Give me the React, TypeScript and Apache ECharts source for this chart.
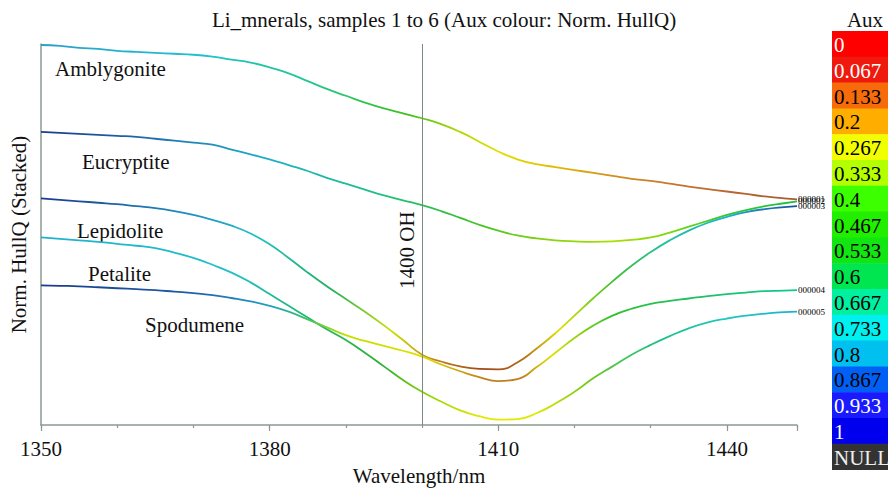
import React, { useEffect, useRef } from "react";
import * as echarts from "echarts";

// ---------- data ----------
const wavelengths = [
  1350, 1352.5, 1355, 1357.5, 1360, 1362.5, 1365, 1367.5, 1370, 1372.5, 1375, 1377.5, 1380,
  1382.5, 1385, 1387.5, 1390, 1392.5, 1395, 1397.5, 1400, 1402.5, 1405, 1407.5, 1410, 1412.5,
  1415, 1417.5, 1420, 1422.5, 1425, 1427.5, 1430, 1432.5, 1435,
  1437.5, 1440, 1442.5, 1445, 1447.5, 1449.2,
];

const amblygonite = [
  3.89, 3.88, 3.86, 3.85, 3.83, 3.82, 3.81, 3.8, 3.79, 3.77, 3.74, 3.71, 3.66,
  3.6, 3.52, 3.44, 3.37, 3.3, 3.24, 3.19, 3.14, 3.08, 3.0, 2.9, 2.8, 2.72,
  2.67, 2.64, 2.61, 2.58, 2.55, 2.52, 2.5, 2.47, 2.44,
  2.415, 2.39, 2.365, 2.34, 2.32, 2.31,
];
const eucryptite = [
  3.0, 2.99, 2.98, 2.97, 2.96, 2.95, 2.93, 2.91, 2.89, 2.87, 2.82, 2.77, 2.72,
  2.66, 2.6, 2.53, 2.47, 2.41, 2.35, 2.3, 2.25, 2.19, 2.12, 2.05, 1.99, 1.94,
  1.91, 1.89, 1.88, 1.875, 1.88, 1.895, 1.92, 1.97, 2.03,
  2.09, 2.15, 2.2, 2.24, 2.27, 2.29,
];
const lepidolite = [
  2.32, 2.305, 2.29, 2.275, 2.26, 2.24, 2.22, 2.19, 2.15, 2.1, 2.04, 1.96, 1.85,
  1.71, 1.56, 1.42, 1.29, 1.16, 1.02, 0.87, 0.72, 0.65, 0.6, 0.575, 0.57, 0.64,
  0.78, 0.94, 1.12, 1.3, 1.47, 1.63, 1.77, 1.89, 1.99,
  2.07, 2.13, 2.18, 2.21, 2.23, 2.24,
];
const petalite = [
  1.92, 1.905, 1.89, 1.875, 1.855, 1.835, 1.81, 1.765, 1.71, 1.64, 1.56, 1.46, 1.34,
  1.22, 1.1, 0.98, 0.87, 0.74, 0.6, 0.46, 0.34, 0.24, 0.15, 0.09, 0.055, 0.06,
  0.12, 0.22, 0.34, 0.48, 0.6, 0.72, 0.82, 0.91, 0.99,
  1.05, 1.09, 1.12, 1.14, 1.155, 1.16,
];
const spodumene = [
  1.43, 1.425, 1.42, 1.41, 1.4, 1.39, 1.38, 1.365, 1.35, 1.33, 1.3, 1.265, 1.22,
  1.16, 1.08, 1.0, 0.92, 0.86, 0.81, 0.76, 0.7, 0.62, 0.55, 0.49, 0.45, 0.47,
  0.59, 0.74, 0.89, 1.02, 1.12, 1.19, 1.24, 1.27, 1.295,
  1.32, 1.34, 1.355, 1.37, 1.375, 1.38,
];

const mineralNames = ["Amblygonite", "Eucryptite", "Lepidolite", "Petalite", "Spodumene"];
const sampleIds = ["000001", "000002", "000003", "000005", "000004"];
const seriesValues = [amblygonite, eucryptite, lepidolite, petalite, spodumene];

const xTickLabels = [1350, 1380, 1410, 1440];
const markerWavelength = 1400;
const markerText = "1400 OH";
const auxLabels = ["0", "0.067", "0.133", "0.2", "0.267", "0.333", "0.4", "0.467", "0.533", "0.6", "0.667", "0.733", "0.8", "0.867", "0.933", "1", "NULL"];

// ---------- styles ----------
const auxColors = ["#ff0000", "#ef1a0d", "#f76b0a", "#ffae00", "#f2ff00", "#b4ff00", "#3cff00", "#22ee00", "#12e612", "#00e650", "#00f0a0", "#00f0f0", "#00c0f0", "#0060f5", "#1a1aff", "#0000ee", "#333333"];
const auxTextColors = ["#fff", "#fff", "#000", "#000", "#000", "#000", "#000", "#000", "#000", "#000", "#000", "#000", "#000", "#000", "#fff", "#fff", "#eee"];

// colour stops per series: [wavelength, colour]
const colourStops: [number, string][][] = [
  [[1350, "#2a9fc8"], [1370, "#20c0d0"], [1385, "#20c890"], [1398, "#40c020"], [1405, "#b0d800"], [1410, "#e0e000"], [1418, "#e0b800"], [1425, "#d09020"], [1435, "#c07030"], [1449.2, "#a85a30"]],
  [[1350, "#1a3a8c"], [1365, "#2070b0"], [1380, "#20b0c8"], [1395, "#20c080"], [1405, "#30c030"], [1415, "#80d010"], [1425, "#a8e000"], [1432, "#80d810"], [1440, "#30c830"], [1449.2, "#22c040"]],
  [[1350, "#1a3a8c"], [1370, "#2090c0"], [1378, "#20c0c8"], [1388, "#20b060"], [1396, "#c8e000"], [1402, "#c08020"], [1408, "#a04818"], [1413, "#b06818"], [1418, "#e0e000"], [1425, "#40c030"], [1432, "#20c0a0"], [1440, "#20b0d0"], [1449.2, "#1a4a9c"]],
  [[1350, "#20b0d0"], [1375, "#20c0c8"], [1385, "#20b870"], [1395, "#30b030"], [1402, "#a0d800"], [1408, "#e8e800"], [1415, "#e0e800"], [1422, "#70c820"], [1430, "#20c080"], [1440, "#20c8c0"], [1449.2, "#20b0d0"]],
  [[1350, "#1a3a8c"], [1370, "#2060a8"], [1380, "#20a0c8"], [1385, "#40c060"], [1390, "#c0e000"], [1400, "#e0e000"], [1408, "#c08020"], [1413, "#c08020"], [1417, "#e0e000"], [1425, "#30c030"], [1435, "#20c060"], [1449.2, "#10c890"]],
];

// label positions [left, centerY]
const nameLabelPos: [number, number][] = [[55, 69], [82, 162], [77, 231], [88, 274], [145, 325]];

const FONT = "Liberation Serif, Times New Roman, serif";
const AXIS_COLOR = "#8a9a90";
const X_MIN = 1350;
const X_MAX = 1449.2;

export default function App() {
  const ref = useRef<HTMLDivElement>(null);

  useEffect(() => {
    if (!ref.current) return;
    const chart = echarts.init(ref.current, undefined, { renderer: "svg" });

    const series: any[] = seriesValues.map((vals, i) => ({
      type: "line",
      name: mineralNames[i],
      data: wavelengths.map((w, j) => [w, vals[j]]),
      smooth: 0.5,
      symbol: "none",
      lineStyle: {
        width: 1.8,
        color: new echarts.graphic.LinearGradient(
          0, 0, 1, 0,
          colourStops[i].map(([w, c]) => ({ offset: (w - X_MIN) / (X_MAX - X_MIN), color: c }))
        ),
      },
      endLabel: {
        show: true,
        formatter: sampleIds[i],
        fontSize: 9,
        fontFamily: FONT,
        color: "#000",
        distance: 1,
      },
      markLine: i === 0 ? {
        silent: true,
        symbol: "none",
        data: [{ xAxis: markerWavelength }],
        lineStyle: { color: "#7c8a84", width: 1, type: "solid" },
        label: { show: false },
      } : undefined,
    }));

    const graphics: any[] = [];
    graphics.push({
      type: "text",
      x: 865,
      y: 20,
      style: { text: "Aux", font: `21px ${FONT}`, fill: "#111", textAlign: "center", textVerticalAlign: "middle" },
    });
    const cellH = 25.8;
    auxLabels.forEach((lab, i) => {
      graphics.push({
        type: "rect",
        shape: { x: 832, y: 31 + i * cellH, width: 56, height: cellH + 0.5 },
        style: { fill: auxColors[i] },
      });
      graphics.push({
        type: "text",
        x: 834,
        y: 31 + i * cellH + cellH / 2 + 1,
        style: { text: lab, font: `21px ${FONT}`, fill: auxTextColors[i], textAlign: "left", textVerticalAlign: "middle" },
      });
    });
    mineralNames.forEach((nm, i) => {
      graphics.push({
        type: "text",
        x: nameLabelPos[i][0],
        y: nameLabelPos[i][1],
        style: { text: nm, font: `21px ${FONT}`, fill: "#111", textAlign: "left", textVerticalAlign: "middle" },
      });
    });

    chart.setOption({
      animation: false,
      backgroundColor: "#fff",
      title: {
        text: "Li_mnerals, samples 1 to 6 (Aux colour: Norm. HullQ)",
        left: "center",
        top: 9,
        padding: 0,
        textStyle: { fontSize: 21, fontWeight: "normal", fontFamily: FONT, color: "#111" },
      },
      grid: { left: 39, right: 888 - 797, top: 44, bottom: 57 },
      xAxis: [
        {
          type: "value",
          min: X_MIN,
          max: X_MAX,
          interval: 30,
          position: "bottom",
          name: "Wavelength/nm",
          nameLocation: "middle",
          nameGap: 40,
          nameTextStyle: { fontSize: 21, fontFamily: FONT, color: "#111" },
          axisLine: { show: true, lineStyle: { color: AXIS_COLOR, width: 1.5 } },
          axisTick: { show: true, length: 6, lineStyle: { color: AXIS_COLOR, width: 1.2 } },
          axisLabel: {
            fontSize: 21,
            fontFamily: FONT,
            color: "#111",
            margin: 13,
            formatter: (v: number) => (xTickLabels.includes(v) ? String(v) : ""),
          },
          splitLine: { show: false },
        },
        {
          type: "value",
          min: X_MIN,
          max: X_MAX,
          interval: 10,
          position: "bottom",
          axisLine: { show: false },
          axisTick: { show: true, length: 3, lineStyle: { color: AXIS_COLOR, width: 1.2 } },
          axisLabel: { show: false },
          splitLine: { show: false },
        },
      ],
      yAxis: {
        type: "value",
        min: 0,
        max: 3.9,
        name: "Norm. HullQ (Stacked)",
        nameLocation: "middle",
        nameGap: 12,
        nameTextStyle: { fontSize: 21, fontFamily: FONT, color: "#111" },
        axisLine: { show: true, lineStyle: { color: AXIS_COLOR, width: 1.5 } },
        axisTick: { show: false },
        axisLabel: { show: false },
        splitLine: { show: false },
      },
      series,
      graphic: graphics,
    });

    // rotated annotation next to the 1400 nm marker line
    const p = chart.convertToPixel({ xAxisIndex: 0, yAxisIndex: 0 }, [markerWavelength, 1.79]) as number[];
    chart.setOption({
      graphic: [
        ...graphics,
        {
          type: "text",
          x: p[0] - 15,
          y: p[1],
          rotation: Math.PI / 2,
          style: { text: markerText, font: `21px ${FONT}`, fill: "#111", textAlign: "center", textVerticalAlign: "middle" },
        },
      ],
    });

    return () => chart.dispose();
  }, []);

  return (
    <div
      ref={ref}
      style={{ position: "fixed", left: 0, top: 0, width: 888, height: 491, background: "#fff" }}
    />
  );
}
